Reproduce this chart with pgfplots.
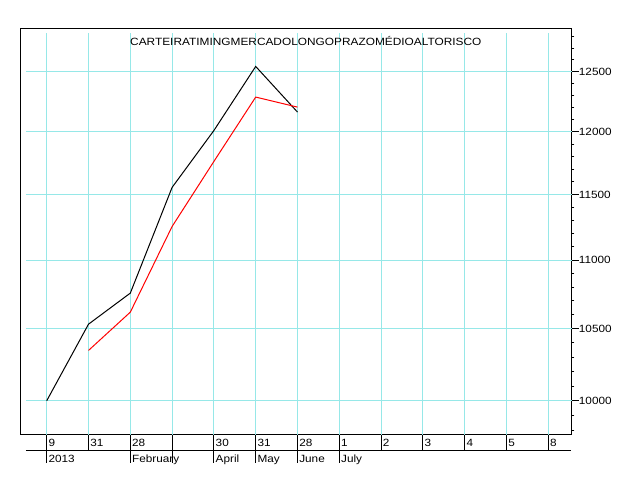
\documentclass[border=0pt]{standalone}
\usepackage{pgfplots}
\pgfplotsset{compat=1.18}
\usepackage{fontspec}
\setmainfont{Liberation Sans}
\definecolor{gridc}{RGB}{150,232,232}
\newcommand{\lblfont}{\fontsize{10.5}{12}\selectfont}
\begin{document}
\begin{tikzpicture}
\useasboundingbox (0,0) rectangle (633pt,478pt);
\begin{axis}[
  at={(20.3pt,43.3pt)}, anchor=south west,
  scale only axis, width=551.4pt, height=406.4pt,
  xmin=-0.632, xmax=12.56,
  ymode=log, ymin=9774, ymax=12873,
  axis line style={line width=1pt, black},
  clip=false,
  xtick={0,...,12},
  xticklabels={9,31,28,,30,31,28,1,2,3,4,5,8},
  xtick style={draw=none},
  xtick pos=bottom,
  xticklabel style={anchor=base west, inner sep=0pt, xshift=1.6pt, yshift=-5pt, font=\lblfont, xscale=1.12},
  ytick={10000,10500,11000,11500,12000,12500},
  yticklabels={10000,10500,11000,11500,12000,12500},
  minor ytick={9800,9900,10100,10200,10300,10400,10600,10700,10800,10900,11100,11200,11300,11400,11600,11700,11800,11900,12100,12200,12300,12400,12600,12700,12800},
  ytick pos=right,
  tick align=outside,
  major tick length=7pt, minor tick length=2.7pt,
  ytick style={line width=1pt, black},
  minor tick style={line width=1pt, black},
  yticklabel style={anchor=west, inner sep=0pt, font=\lblfont, xscale=1.12},
  /pgf/number format/assume math mode=true,
]
% grid
\pgfplotsinvokeforeach{0,...,12}{\draw[gridc, line width=1pt] (axis cs:#1,9774) -- ([yshift=-4.4pt]axis cs:#1,12873);}
\pgfplotsinvokeforeach{10000,10500,11000,11500,12000,12500}{\draw[gridc, line width=1pt] ([xshift=5.7pt]axis cs:-0.632,#1) -- (axis cs:12.56,#1);}
% data
\addplot[black, line width=1pt, mark=none] coordinates {(0,10000)(1,10533)(2,10757)(3,11556)(4,12010)(5,12543)(6,12161)};
\addplot[red, line width=1pt, mark=none] coordinates {(1,10347)(2,10619)(3,11254)(4,11761)(5,12285)(6,12202)};
% bottom ticks
\pgfplotsinvokeforeach{0,...,12}{\draw[line width=1pt] (axis cs:#1,9774) -- ([yshift=-15.5pt]axis cs:#1,9774);}
\pgfplotsinvokeforeach{0,2,3,4,5,6,7}{\draw[line width=1pt] ([yshift=-15.8pt]axis cs:#1,9774) -- ([yshift=-28.3pt]axis cs:#1,9774);}
\draw[line width=1pt] ([xshift=5.7pt,yshift=-15.8pt]rel axis cs:0,0) -- ([xshift=-1pt,yshift=-15.8pt]rel axis cs:1,0);
\node[anchor=base west, inner sep=0pt, font=\lblfont, xscale=1.12] at ([xshift=1.6pt,yshift=-28pt]axis cs:0,9774) {2013};
\node[anchor=base west, inner sep=0pt, font=\lblfont, xscale=1.12] at ([xshift=1.6pt,yshift=-28pt]axis cs:2,9774) {February};
\node[anchor=base west, inner sep=0pt, font=\lblfont, xscale=1.12] at ([xshift=1.6pt,yshift=-28pt]axis cs:4,9774) {April};
\node[anchor=base west, inner sep=0pt, font=\lblfont, xscale=1.12] at ([xshift=1.6pt,yshift=-28pt]axis cs:5,9774) {May};
\node[anchor=base west, inner sep=0pt, font=\lblfont, xscale=1.12] at ([xshift=1.6pt,yshift=-28pt]axis cs:6,9774) {June};
\node[anchor=base west, inner sep=0pt, font=\lblfont, xscale=1.12] at ([xshift=1.6pt,yshift=-28pt]axis cs:7,9774) {July};
% title
\node[anchor=base west, inner sep=0pt, font=\lblfont, xscale=1.13] at ([xshift=109.7pt,yshift=-17.4pt]rel axis cs:0,1) {CARTEIRATIMINGMERCADOLONGOPRAZOMÉDIOALTORISCO};
\end{axis}
\end{tikzpicture}
\end{document}
